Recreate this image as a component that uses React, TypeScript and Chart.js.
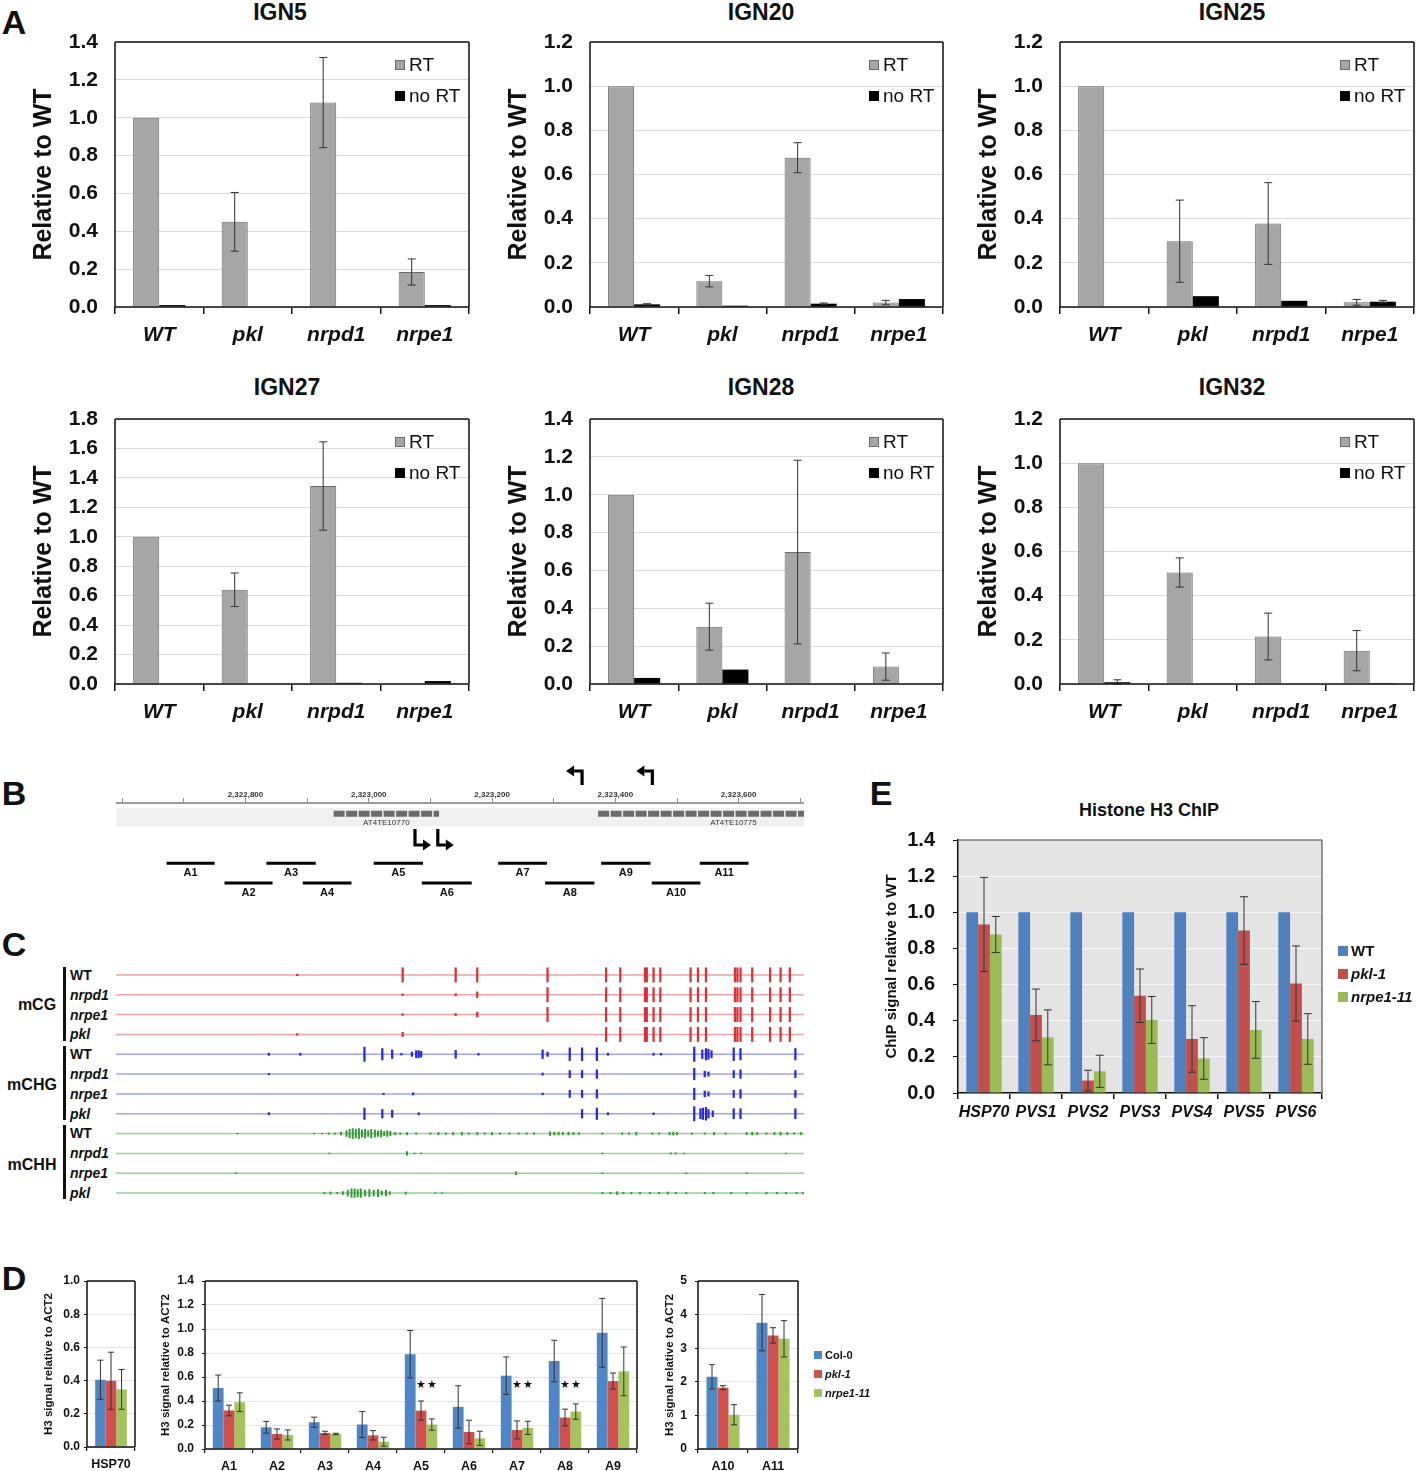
import React, { useEffect, useRef } from 'react';
import { Chart, registerables } from 'chart.js';

Chart.register(...registerables);
const FONT = 'Arial, "Liberation Sans", Helvetica, sans-serif';
Chart.defaults.font.family = FONT;
Chart.defaults.color = '#111';

// ================= PANEL A DATA =================
const genotypes = ['WT', 'pkl', 'nrpd1', 'nrpe1'];
const ign5RT = [1.0, 0.45, 1.08, 0.185];
const ign5RTErr = [0, 0.155, 0.238, 0.069];
const ign5NoRT = [0.01, 0, 0, 0.01];
const ign5NoRTErr = [0, 0, 0, 0];
const ign20RT = [1.0, 0.117, 0.676, 0.02];
const ign20RTErr = [0, 0.026, 0.068, 0.01];
const ign20NoRT = [0.012, 0.006, 0.015, 0.036];
const ign20NoRTErr = [0.003, 0, 0.003, 0];
const ign25RT = [1.0, 0.298, 0.378, 0.021];
const ign25RTErr = [0, 0.186, 0.185, 0.013];
const ign25NoRT = [0, 0.049, 0.028, 0.024];
const ign25NoRTErr = [0, 0, 0, 0.006];
const ign27RT = [1.0, 0.64, 1.345, 0];
const ign27RTErr = [0, 0.114, 0.3, 0];
const ign27NoRT = [0, 0, 0.008, 0.02];
const ign27NoRTErr = [0, 0, 0, 0];
const ign28RT = [1.0, 0.303, 0.697, 0.092];
const ign28RTErr = [0, 0.124, 0.485, 0.072];
const ign28NoRT = [0.032, 0.076, 0, 0];
const ign28NoRTErr = [0, 0, 0, 0];
const ign32RT = [1.0, 0.505, 0.215, 0.151];
const ign32RTErr = [0, 0.066, 0.106, 0.091];
const ign32NoRT = [0.008, 0, 0, 0.004];
const ign32NoRTErr = [0.011, 0, 0, 0];

// ================= PANEL B DATA =================
const ampliconNames = ['A1', 'A2', 'A3', 'A4', 'A5', 'A6', 'A7', 'A8', 'A9', 'A10', 'A11'];
const ampliconStart = [2322672, 2322766, 2322834, 2322893, 2323008, 2323086, 2323210, 2323286, 2323377, 2323459, 2323537];
const ampliconEnd = [2322750, 2322844, 2322914, 2322972, 2323088, 2323167, 2323289, 2323366, 2323457, 2323538, 2323616];
const teNames = ['AT4TE10770', 'AT4TE10775'];
const teStart = [2322943, 2323372];
const teEnd = [2323114, 2323811];
const tssPos = [2323075, 2323112, 2323346, 2323460];
const tssStrand = [1, 1, -1, -1];

// ================= PANEL C DATA (position bp, relative height) =================
const methContexts = ['mCG', 'mCHG', 'mCHH'];
const methSamples = ['WT', 'nrpd1', 'nrpe1', 'pkl'];
const mcgCore = [[2323385, 1], [2323408, 1], [2323448, 1], [2323451, 1], [2323462, 1], [2323473, 1], [2323522, 1], [2323534, 1], [2323547, 1], [2323594, 1], [2323598, 1], [2323603, 1], [2323622, 1], [2323651, 1], [2323668, 1], [2323683, 1]];
const mcgWT = [[2322884, 0.12], [2323055, 1], [2323141, 1], [2323176, 1], [2323290, 1], ...mcgCore];
const mcgNrpd1 = [[2323055, 0.12], [2323141, 0.15], [2323176, 0.4], [2323290, 1], ...mcgCore];
const mcgNrpe1 = [[2323055, 0.12], [2323141, 0.15], [2323176, 0.35], [2323290, 1], ...mcgCore];
const mcgPkl = [[2322884, 0.12], [2323055, 0.3], ...mcgCore];
const mchgWT = [[2322838, 0.15], [2322889, 0.15], [2322993, 1], [2323022, 0.8], [2323038, 0.6], [2323053, 0.12], [2323070, 0.3], [2323077, 0.5], [2323081, 0.5], [2323085, 0.4], [2323141, 0.55], [2323178, 0.12], [2323282, 0.6], [2323290, 0.3], [2323326, 0.9], [2323346, 0.9], [2323370, 0.9], [2323388, 0.15], [2323462, 0.15], [2323474, 0.12], [2323528, 1], [2323541, 0.6], [2323547, 0.8], [2323551, 0.7], [2323556, 0.5], [2323592, 0.9], [2323603, 0.8], [2323692, 0.8]];
const mchgNrpd1 = [[2322838, 0.1], [2323282, 0.15], [2323326, 0.5], [2323346, 0.5], [2323370, 0.6], [2323528, 0.8], [2323545, 0.4], [2323551, 0.3], [2323592, 0.5], [2323603, 0.6], [2323692, 0.5]];
const mchgNrpe1 = [[2323024, 0.1], [2323072, 0.15], [2323282, 0.12], [2323326, 0.5], [2323346, 0.5], [2323370, 0.6], [2323528, 0.8], [2323545, 0.4], [2323551, 0.3], [2323592, 0.5], [2323603, 0.6], [2323692, 0.5]];
const mchgPkl = [[2322838, 0.15], [2322993, 0.8], [2323022, 0.6], [2323038, 0.5], [2323081, 0.15], [2323346, 0.6], [2323370, 0.8], [2323388, 0.15], [2323462, 0.12], [2323528, 1], [2323538, 0.7], [2323542, 0.8], [2323547, 0.9], [2323551, 0.6], [2323558, 0.4], [2323592, 0.7], [2323603, 0.7], [2323692, 0.7]];
const mchhWT = [[2322787, 0.05], [2322911, 0.05], [2322924, 0.05], [2322935, 0.1], [2322945, 0.1], [2322955, 0.2], [2322964, 0.4], [2322969, 0.6], [2322974, 0.7], [2322979, 0.6], [2322984, 0.7], [2322989, 0.5], [2322994, 0.6], [2322999, 0.4], [2323004, 0.6], [2323010, 0.5], [2323015, 0.4], [2323020, 0.5], [2323025, 0.3], [2323030, 0.4], [2323035, 0.3], [2323043, 0.15], [2323051, 0.1], [2323062, 0.15], [2323077, 0.1], [2323100, 0.1], [2323113, 0.15], [2323125, 0.1], [2323137, 0.15], [2323151, 0.2], [2323162, 0.1], [2323176, 0.15], [2323188, 0.1], [2323200, 0.15], [2323213, 0.1], [2323228, 0.1], [2323243, 0.1], [2323256, 0.1], [2323268, 0.1], [2323294, 0.25], [2323301, 0.2], [2323308, 0.2], [2323315, 0.15], [2323324, 0.2], [2323332, 0.15], [2323341, 0.1], [2323379, 0.1], [2323411, 0.1], [2323422, 0.1], [2323434, 0.2], [2323460, 0.1], [2323471, 0.1], [2323488, 0.15], [2323494, 0.2], [2323500, 0.15], [2323524, 0.1], [2323545, 0.1], [2323560, 0.15], [2323579, 0.1], [2323613, 0.15], [2323622, 0.2], [2323630, 0.15], [2323645, 0.1], [2323658, 0.15], [2323668, 0.2], [2323679, 0.15], [2323690, 0.1], [2323701, 0.15]];
const mchhNrpd1 = [[2322936, 0.05], [2323062, 0.25], [2323074, 0.05], [2323085, 0.05], [2323379, 0.05], [2323490, 0.08], [2323498, 0.08], [2323511, 0.05], [2323677, 0.05]];
const mchhNrpe1 = [[2322785, 0.05], [2323239, 0.2], [2323379, 0.05], [2323515, 0.05], [2323613, 0.05]];
const mchhPkl = [[2322928, 0.1], [2322938, 0.15], [2322949, 0.1], [2322958, 0.2], [2322966, 0.4], [2322972, 0.6], [2322977, 0.6], [2322982, 0.5], [2322987, 0.6], [2322994, 0.4], [2323001, 0.5], [2323008, 0.4], [2323015, 0.5], [2323021, 0.3], [2323028, 0.4], [2323034, 0.2], [2323060, 0.15], [2323108, 0.05], [2323119, 0.05], [2323379, 0.1], [2323392, 0.1], [2323403, 0.2], [2323413, 0.1], [2323426, 0.1], [2323440, 0.1], [2323456, 0.1], [2323471, 0.1], [2323485, 0.15], [2323498, 0.1], [2323515, 0.1], [2323545, 0.1], [2323559, 0.1], [2323588, 0.1], [2323613, 0.1], [2323645, 0.12], [2323662, 0.1], [2323677, 0.1], [2323694, 0.1], [2323704, 0.1]];

// ================= PANEL D DATA =================
const dHspCats = ['HSP70'];
const dHspCol0 = [0.405];
const dHspCol0Err = [0.118];
const dHspPkl = [0.399];
const dHspPklErr = [0.172];
const dHspNrpe = [0.347];
const dHspNrpeErr = [0.12];
const dMainCats = ['A1', 'A2', 'A3', 'A4', 'A5', 'A6', 'A7', 'A8', 'A9'];
const dMainCol0 = [0.508, 0.181, 0.223, 0.204, 0.79, 0.351, 0.611, 0.733, 0.968];
const dMainCol0Err = [0.108, 0.049, 0.042, 0.108, 0.197, 0.176, 0.156, 0.173, 0.287];
const dMainPkl = [0.321, 0.125, 0.134, 0.114, 0.32, 0.142, 0.159, 0.262, 0.566];
const dMainPklErr = [0.044, 0.042, 0.014, 0.039, 0.08, 0.098, 0.075, 0.07, 0.067];
const dMainNrpe = [0.39, 0.117, 0.125, 0.061, 0.204, 0.089, 0.176, 0.312, 0.647];
const dMainNrpeErr = [0.078, 0.042, 0.006, 0.037, 0.047, 0.059, 0.055, 0.064, 0.203];
const dEndCats = ['A10', 'A11'];
const dEndCol0 = [2.15, 3.76];
const dEndCol0Err = [0.36, 0.84];
const dEndPkl = [1.825, 3.38];
const dEndPklErr = [0.06, 0.23];
const dEndNrpe = [1.02, 3.28];
const dEndNrpeErr = [0.3, 0.54];
const starCats = ['A5', 'A7', 'A8'];
const starLevel = 0.53;

// ================= PANEL E DATA =================
const eCats = ['HSP70', 'PVS1', 'PVS2', 'PVS3', 'PVS4', 'PVS5', 'PVS6'];
const eWT = [1, 1, 1, 1, 1, 1, 1];
const ePkl = [0.933, 0.432, 0.069, 0.538, 0.299, 0.899, 0.606];
const ePklErr = [0.26, 0.143, 0.057, 0.148, 0.184, 0.187, 0.208];
const eNrpe = [0.877, 0.308, 0.12, 0.404, 0.191, 0.349, 0.299];
const eNrpeErr = [0.1, 0.152, 0.089, 0.13, 0.115, 0.157, 0.14];

// ================= helpers =================
const X_MIN = 2322590;
const X_MAX = 2323706;
const D_BLUE = '#4f86c6';
const D_RED = '#d0504d';
const D_GREEN = '#a3c35c';
const E_BLUE = '#4f81bd';
const E_RED = '#c0504d';
const E_GREEN = '#9bbb59';

function noPad(s: any) {
  s.paddingTop = 0;
  s.paddingBottom = 0;
  s.paddingLeft = 0;
  s.paddingRight = 0;
}

function errorBarPlugin(color: string, width: number, cap: number) {
  return {
    id: 'errorBars',
    afterDatasetsDraw(chart: any) {
      const ctx = chart.ctx;
      chart.data.datasets.forEach((ds: any, i: number) => {
        const errs = ds.errors;
        if (!errs) return;
        const meta = chart.getDatasetMeta(i);
        const ys = chart.scales[meta.yAxisID];
        meta.data.forEach((el: any, j: number) => {
          const v = ds.data[j];
          const e = errs[j];
          if (!e) return;
          const x = el.x;
          const t = ys.getPixelForValue(v + e);
          const b = ys.getPixelForValue(Math.max(0, v - e));
          ctx.save();
          ctx.strokeStyle = color;
          ctx.lineWidth = width;
          ctx.beginPath();
          ctx.moveTo(x, t); ctx.lineTo(x, b);
          ctx.moveTo(x - cap, t); ctx.lineTo(x + cap, t);
          ctx.moveTo(x - cap, b); ctx.lineTo(x + cap, b);
          ctx.stroke();
          ctx.restore();
        });
      });
    },
  };
}

function boxPlugin(color: string, width: number, sides: string[]) {
  return {
    id: 'box',
    afterDatasetsDraw(chart: any) {
      const { ctx, chartArea: a } = chart;
      ctx.save();
      ctx.strokeStyle = color;
      ctx.lineWidth = width;
      ctx.beginPath();
      if (sides.includes('top')) { ctx.moveTo(a.left, a.top); ctx.lineTo(a.right, a.top); }
      if (sides.includes('right')) { ctx.moveTo(a.right, a.top); ctx.lineTo(a.right, a.bottom); }
      if (sides.includes('bottom')) { ctx.moveTo(a.left, a.bottom); ctx.lineTo(a.right, a.bottom); }
      if (sides.includes('left')) { ctx.moveTo(a.left, a.top); ctx.lineTo(a.left, a.bottom); }
      ctx.stroke();
      ctx.restore();
    },
  };
}

function legendPlugin(o: any) {
  return {
    id: 'customLegend',
    afterDraw(chart: any) {
      const { ctx, chartArea: a } = chart;
      chart.data.datasets.forEach((ds: any, k: number) => {
        const x0 = o.fromRight ? a.right - o.dx : a.right + o.dx;
        const cy = a.top + o.dy + k * o.step;
        ctx.save();
        ctx.fillStyle = ds.backgroundColor;
        ctx.fillRect(x0, cy - o.sq / 2, o.sq, o.sq);
        if (o.stroke) {
          ctx.strokeStyle = ds.borderColor || '#000';
          ctx.lineWidth = 1;
          ctx.strokeRect(x0 + 0.5, cy - o.sq / 2 + 0.5, o.sq - 1, o.sq - 1);
        }
        const italic = o.italic && k > 0 ? 'italic ' : '';
        ctx.font = `${italic}${o.bold ? 'bold ' : ''}${o.size}px ${FONT}`;
        ctx.fillStyle = '#111';
        ctx.textAlign = 'left';
        ctx.textBaseline = 'middle';
        ctx.fillText(ds.label, x0 + o.sq + o.gap, cy + 1);
        ctx.restore();
      });
    },
  };
}

function ignConfig(yMax: number, rt: number[], rtErr: number[], noRt: number[], noRtErr: number[]) {
  return {
    type: 'bar',
    data: {
      labels: genotypes,
      datasets: [
        { label: 'RT', data: rt, errors: rtErr, backgroundColor: '#a6a6a6', borderColor: '#6a6a6a', borderWidth: 1, categoryPercentage: 0.59, barPercentage: 1 },
        { label: 'no RT', data: noRt, errors: noRtErr, backgroundColor: '#000', borderColor: '#000', borderWidth: 0, categoryPercentage: 0.59, barPercentage: 1 },
      ],
    },
    options: {
      animation: false, responsive: false, maintainAspectRatio: false,
      layout: { padding: { top: 12, right: 2, left: 0, bottom: 0 } },
      plugins: { legend: { display: false }, tooltip: { enabled: false }, title: { display: false } },
      scales: {
        x: {
          grid: { display: true, drawOnChartArea: false, drawTicks: true, tickLength: 7, color: '#111', lineWidth: 1.5, offset: true },
          border: { display: false },
          ticks: { font: { size: 21, weight: 'bold', style: 'italic' }, color: '#111', padding: 9, maxRotation: 0, autoSkip: false },
          afterFit: (s: any) => { s.height = 53; noPad(s); },
        },
        y: {
          min: 0, max: yMax,
          ticks: { stepSize: 0.2, autoSkip: false, maxTicksLimit: 30, callback: (v: any) => Number(v).toFixed(1), font: { size: 21, weight: 'bold', lineHeight: 1 }, color: '#111', padding: 17 },
          grid: { color: '#dadada', drawTicks: false, lineWidth: 1 },
          border: { display: false },
          title: { display: true, text: 'Relative to WT', font: { size: 25, weight: 'bold' }, color: '#111', padding: { top: 29, bottom: 0 } },
          afterFit: (s: any) => { s.width = 115; noPad(s); },
        },
      },
    },
    plugins: [
      errorBarPlugin('#333', 1, 4),
      boxPlugin('#111', 1.5, ['top', 'right', 'bottom', 'left']),
      legendPlugin({ fromRight: true, dx: 74, dy: 23, step: 31, sq: 10, gap: 4, size: 19, bold: false, italic: false, stroke: true }),
    ],
  };
}

function dConfig(o: any) {
  return {
    type: 'bar',
    data: {
      labels: o.cats,
      datasets: [
        { label: 'Col-0', data: o.col0, errors: o.col0Err, backgroundColor: D_BLUE, categoryPercentage: o.cat, barPercentage: 1 },
        { label: 'pkl-1', data: o.pkl, errors: o.pklErr, backgroundColor: D_RED, categoryPercentage: o.cat, barPercentage: 1 },
        { label: 'nrpe1-11', data: o.nrpe, errors: o.nrpeErr, backgroundColor: D_GREEN, categoryPercentage: o.cat, barPercentage: 1 },
      ],
    },
    options: {
      animation: false, responsive: false, maintainAspectRatio: false,
      layout: { padding: { top: 11, right: o.padRight, left: 0, bottom: 0 } },
      plugins: { legend: { display: false }, tooltip: { enabled: false } },
      scales: {
        x: {
          grid: { display: true, drawOnChartArea: false, drawTicks: true, tickLength: 4, color: '#111', lineWidth: 1.2, offset: true },
          border: { display: false },
          ticks: { font: { size: 12.5, weight: 'bold' }, color: '#111', padding: 6, maxRotation: 0, autoSkip: false },
          afterFit: (s: any) => { s.height = o.xH; noPad(s); },
        },
        y: {
          min: 0, max: o.yMax,
          ticks: { stepSize: o.step, autoSkip: false, maxTicksLimit: 30, callback: (v: any) => (o.step < 1 ? Number(v).toFixed(1) : String(v)), font: { size: 12, weight: 'bold', lineHeight: 1 }, color: '#111', padding: o.tickPad },
          grid: { color: '#e4e4e4', tickColor: '#111', drawTicks: true, tickLength: 3 },
          border: { display: false },
          title: { display: true, text: 'H3 signal relative to ACT2', font: { size: 11.5, weight: 'bold' }, color: '#111', padding: { top: o.titlePad, bottom: 0 } },
          afterFit: (s: any) => { s.width = o.yW; noPad(s); },
        },
      },
    },
    plugins: [errorBarPlugin('#333', 1, 3), boxPlugin('#111', 1.5, ['top', 'right', 'bottom', 'left']), ...(o.extra || [])],
  };
}

const starPlugin = {
  id: 'stars',
  afterDatasetsDraw(chart: any) {
    const { ctx } = chart;
    const ys = chart.scales.y;
    const labels = chart.data.labels;
    ctx.save();
    ctx.fillStyle = '#111';
    ctx.font = `11px ${FONT}`;
    ctx.textAlign = 'center';
    ctx.textBaseline = 'middle';
    starCats.forEach((cat) => {
      const idx = labels.indexOf(cat);
      [1, 2].forEach((di) => {
        const el = chart.getDatasetMeta(di).data[idx];
        ctx.fillText('\u2605', el.x, ys.getPixelForValue(starLevel));
      });
    });
    ctx.restore();
  },
};

function eConfig() {
  return {
    type: 'bar',
    data: {
      labels: eCats,
      datasets: [
        { label: 'WT', data: eWT, backgroundColor: E_BLUE, categoryPercentage: 0.68, barPercentage: 1 },
        { label: 'pkl-1', data: ePkl, errors: ePklErr, backgroundColor: E_RED, categoryPercentage: 0.68, barPercentage: 1 },
        { label: 'nrpe1-11', data: eNrpe, errors: eNrpeErr, backgroundColor: E_GREEN, categoryPercentage: 0.68, barPercentage: 1 },
      ],
    },
    options: {
      animation: false, responsive: false, maintainAspectRatio: false,
      layout: { padding: { top: 10, right: 95, left: 0, bottom: 0 } },
      plugins: { legend: { display: false }, tooltip: { enabled: false } },
      scales: {
        x: {
          grid: { display: true, drawOnChartArea: false, drawTicks: true, tickLength: 6, color: '#111', lineWidth: 1.5, offset: true },
          border: { display: true, color: '#111', width: 1.5 },
          ticks: { font: { size: 16, weight: 'bold', style: 'italic' }, color: '#111', padding: 4, maxRotation: 0, minRotation: 0, autoSkip: false },
          afterFit: (s: any) => { s.height = 30; noPad(s); },
        },
        y: {
          min: 0, max: 1.4,
          ticks: { stepSize: 0.2, autoSkip: false, maxTicksLimit: 30, callback: (v: any) => Number(v).toFixed(1), font: { size: 20, weight: 'bold', lineHeight: 1 }, color: '#111', padding: 18 },
          grid: { color: '#f6f6f6', tickColor: '#111', drawTicks: true, tickLength: 5, lineWidth: 1 },
          border: { display: true, color: '#111', width: 1.5 },
          title: { display: true, text: 'ChIP signal relative to WT', font: { size: 15, weight: 'bold' }, color: '#111', padding: { top: 13, bottom: 0 } },
          afterFit: (s: any) => { s.width = 88; noPad(s); },
        },
      },
    },
    plugins: [
      {
        id: 'plotBg',
        beforeDraw(chart: any) {
          const { ctx, chartArea: a } = chart;
          ctx.save();
          ctx.fillStyle = '#e4e4e4';
          ctx.fillRect(a.left, a.top, a.right - a.left, a.bottom - a.top);
          ctx.restore();
        },
      },
      errorBarPlugin('#333', 1, 4),
      boxPlugin('#777', 1.5, ['top', 'right']),
      legendPlugin({ fromRight: false, dx: 16, dy: 111, step: 23, sq: 10, gap: 3, size: 15, bold: true, italic: true, stroke: false }),
    ],
  };
}

function bConfig() {
  const TE_Y = 1.1;
  const ROW_Y = [6.2, 8.25];
  const datasets: any[] = [];
  teNames.forEach((n, i) => {
    datasets.push({ label: n, data: [{ x: teStart[i], y: TE_Y }, { x: teEnd[i], y: TE_Y }], showLine: true, borderColor: '#6b6b6b', borderWidth: 6, borderDash: [11, 1.5], borderCapStyle: 'butt', pointRadius: 0 });
  });
  ampliconNames.forEach((n, i) => {
    datasets.push({ label: n, data: [{ x: ampliconStart[i], y: ROW_Y[i % 2] }, { x: ampliconEnd[i], y: ROW_Y[i % 2] }], showLine: true, borderColor: '#000', borderWidth: 3, borderCapStyle: 'butt', pointRadius: 0 });
  });
  return {
    type: 'scatter',
    data: { datasets },
    options: {
      animation: false, responsive: false, maintainAspectRatio: false,
      layout: { padding: { top: 23, left: 0, right: 0, bottom: 0 } },
      plugins: { legend: { display: false }, tooltip: { enabled: false } },
      scales: {
        x: {
          type: 'linear', position: 'top', min: X_MIN, max: X_MAX, offset: false,
          grid: { display: true, drawOnChartArea: false, drawTicks: true, tickLength: 5, color: '#8a8a8a', lineWidth: 1 },
          border: { display: true, color: '#9a9a9a', width: 2 },
          ticks: {
            stepSize: 100, includeBounds: false, autoSkip: false, maxRotation: 0, maxTicksLimit: 20, padding: -2,
            font: { size: 8, weight: 'bold' }, color: '#333',
            callback: (v: any) => (v % 200 === 0 && v >= 2322800 && v <= 2323600 ? Number(v).toLocaleString('en-US') : ''),
          },
          afterFit: (s: any) => { s.height = 20; noPad(s); },
        },
        y: { display: false, min: 0, max: 10, reverse: true },
      },
    },
    plugins: [
      {
        id: 'bDecor',
        beforeDatasetsDraw(chart: any) {
          const { ctx, chartArea: a, scales } = chart;
          const t = scales.y.getPixelForValue(0.5);
          const b = scales.y.getPixelForValue(2.4);
          ctx.save();
          ctx.fillStyle = '#f0f0f0';
          ctx.fillRect(a.left, t, a.right - a.left, b - t);
          ctx.restore();
        },
        afterDatasetsDraw(chart: any) {
          const { ctx, chartArea: a, scales } = chart;
          const xs = scales.x;
          const ys = scales.y;
          ctx.save();
          ctx.textAlign = 'center';
          ctx.textBaseline = 'middle';
          ctx.font = `8px ${FONT}`;
          ctx.fillStyle = '#333';
          teNames.forEach((n, i) => {
            const cx = xs.getPixelForValue((teStart[i] + teEnd[i]) / 2);
            ctx.fillText(n, cx, ys.getPixelForValue(TE_Y) + 9);
          });
          ctx.font = `bold 11px ${FONT}`;
          ctx.fillStyle = '#111';
          ampliconNames.forEach((n, i) => {
            const cx = xs.getPixelForValue((ampliconStart[i] + ampliconEnd[i]) / 2);
            ctx.fillText(n, cx, ys.getPixelForValue(ROW_Y[i % 2]) + 10);
          });
          ctx.strokeStyle = '#000';
          ctx.fillStyle = '#000';
          ctx.lineWidth = 3.2;
          ctx.lineJoin = 'miter';
          tssPos.forEach((p, i) => {
            const x = xs.getPixelForValue(p);
            const s = tssStrand[i];
            const y0 = s > 0 ? a.top + 26 : a.top - 18;
            const y1 = s > 0 ? a.top + 42 : a.top - 32;
            const hx = x + s * 8;
            ctx.beginPath();
            ctx.moveTo(x, y0);
            ctx.lineTo(x, y1);
            ctx.lineTo(hx, y1);
            ctx.stroke();
            ctx.beginPath();
            ctx.moveTo(x + s * 16, y1);
            ctx.lineTo(hx, y1 - 5.5);
            ctx.lineTo(hx, y1 + 5.5);
            ctx.closePath();
            ctx.fill();
          });
          ctx.restore();
        },
      },
    ],
  };
}

function cConfig() {
  const tracks = [mcgWT, mcgNrpd1, mcgNrpe1, mcgPkl, mchgWT, mchgNrpd1, mchgNrpe1, mchgPkl, mchhWT, mchhNrpd1, mchhNrpe1, mchhPkl];
  const markColors = ['#d8323a', '#2a2ad4', '#2f9a2f'];
  const lineColors = ['#eba5a5', '#a3a3f0', '#95d095'];
  const thick = [1.6, 1.6, 1.3];
  const K = 0.36;
  const datasets: any[] = [];
  tracks.forEach((marks: any, i) => {
    const c = Math.floor(i / 4);
    const base = i + 0.5;
    datasets.push({ type: 'line', data: [{ x: X_MIN, y: base }, { x: X_MAX, y: base }], borderColor: lineColors[c], borderWidth: 1.5, pointRadius: 0, order: 2 });
    datasets.push({ type: 'bar', data: marks.map((m: number[]) => ({ x: m[0], y: [base - m[1] * K, base + m[1] * K] })), backgroundColor: markColors[c], barThickness: thick[c], grouped: false, order: 1 });
  });
  return {
    type: 'bar',
    data: { datasets },
    options: {
      animation: false, responsive: false, maintainAspectRatio: false,
      layout: { padding: 0 },
      plugins: { legend: { display: false }, tooltip: { enabled: false } },
      scales: {
        x: { type: 'linear', display: false, min: X_MIN, max: X_MAX, offset: false },
        y: { type: 'linear', display: false, min: 0, max: 12, reverse: true },
      },
    },
  };
}

function ChartCanvas({ left, top, width, height, make }: any) {
  const ref = useRef<HTMLCanvasElement>(null);
  useEffect(() => {
    const chart = new Chart(ref.current as any, make());
    return () => chart.destroy();
  }, []);
  return <canvas ref={ref} width={width} height={height} style={{ position: 'absolute', left, top, width, height }} />;
}

function T({ x, y, children, size = 14, bold = true, italic = false, align = 'center' }: any) {
  const tx = align === 'center' ? '-50%' : align === 'right' ? '-100%' : '0';
  return (
    <div style={{ position: 'absolute', left: x, top: y, transform: `translate(${tx}, -50%)`, fontFamily: FONT, fontSize: size, fontWeight: bold ? 'bold' : 'normal', fontStyle: italic ? 'italic' : 'normal', whiteSpace: 'nowrap', lineHeight: 1, color: '#111' }}>
      {children}
    </div>
  );
}

const aPanels = [
  { title: 'IGN5', tx: 280, yMax: 1.4, rt: ign5RT, rtErr: ign5RTErr, no: ign5NoRT, noErr: ign5NoRTErr },
  { title: 'IGN20', tx: 761, yMax: 1.2, rt: ign20RT, rtErr: ign20RTErr, no: ign20NoRT, noErr: ign20NoRTErr },
  { title: 'IGN25', tx: 1232, yMax: 1.2, rt: ign25RT, rtErr: ign25RTErr, no: ign25NoRT, noErr: ign25NoRTErr },
  { title: 'IGN27', tx: 287, yMax: 1.8, rt: ign27RT, rtErr: ign27RTErr, no: ign27NoRT, noErr: ign27NoRTErr },
  { title: 'IGN28', tx: 761, yMax: 1.4, rt: ign28RT, rtErr: ign28RTErr, no: ign28NoRT, noErr: ign28NoRTErr },
  { title: 'IGN32', tx: 1232, yMax: 1.2, rt: ign32RT, rtErr: ign32RTErr, no: ign32NoRT, noErr: ign32NoRTErr },
];
const plotLeft = [115, 590, 1060];
const plotRight = [469, 943, 1414];
const plotTop = [42, 419];
const plotBottom = [307, 684];
const titleY = [12, 387];

export default function App() {
  return (
    <div style={{ position: 'absolute', left: 0, top: 0, width: 1417, height: 1471, background: '#fff', overflow: 'hidden' }}>
      <T x={14} y={22} size={34}>A</T>
      <T x={14} y={793} size={34}>B</T>
      <T x={14} y={944} size={34}>C</T>
      <T x={14} y={1278} size={34}>D</T>
      <T x={881} y={793} size={34}>E</T>

      {aPanels.map((p, k) => {
        const col = k % 3;
        const row = Math.floor(k / 3);
        const left = plotLeft[col] - 115;
        const top = plotTop[row] - 12;
        const width = plotRight[col] + 2 - left;
        const height = plotBottom[row] + 53 - top;
        return (
          <React.Fragment key={p.title}>
            <T x={p.tx} y={titleY[row]} size={23}>{p.title}</T>
            <ChartCanvas left={left} top={top} width={width} height={height} make={() => ignConfig(p.yMax, p.rt, p.rtErr, p.no, p.noErr)} />
          </React.Fragment>
        );
      })}

      <ChartCanvas left={116} top={760} width={688} height={140} make={bConfig} />

      <T x={37} y={1005} size={16}>{methContexts[0]}</T>
      <T x={32} y={1085} size={16}>{methContexts[1]}</T>
      <T x={32} y={1165} size={16}>{methContexts[2]}</T>
      {[0, 1, 2].map((g) => (
        <div key={g} style={{ position: 'absolute', left: 63, top: 967 + g * 79.2, width: 2.5, height: 74, background: '#111' }} />
      ))}
      {[0, 1, 2].map((g) => methSamples.map((s, r) => (
        <T key={`${g}-${s}`} x={70} y={975 + (g * 4 + r) * 19.8} size={14} align="left" italic={s !== 'WT'}>{s}</T>
      )))}
      <ChartCanvas left={116} top={965} width={688} height={238} make={cConfig} />

      <ChartCanvas left={30} top={1270} width={106} height={205} make={() => dConfig({ cats: dHspCats, col0: dHspCol0, col0Err: dHspCol0Err, pkl: dHspPkl, pklErr: dHspPklErr, nrpe: dHspNrpe, nrpeErr: dHspNrpeErr, cat: 0.66, yMax: 1.0, step: 0.2, yW: 57, tickPad: 4, titlePad: 12, padRight: 1, xH: 28 })} />
      <ChartCanvas left={145} top={1270} width={493} height={207} make={() => dConfig({ cats: dMainCats, col0: dMainCol0, col0Err: dMainCol0Err, pkl: dMainPkl, pklErr: dMainPklErr, nrpe: dMainNrpe, nrpeErr: dMainNrpeErr, cat: 0.675, yMax: 1.4, step: 0.2, yW: 60, tickPad: 8, titlePad: 14, padRight: 1, xH: 28, extra: [starPlugin] })} />
      <ChartCanvas left={650} top={1270} width={230} height={207} make={() => dConfig({ cats: dEndCats, col0: dEndCol0, col0Err: dEndCol0Err, pkl: dEndPkl, pklErr: dEndPklErr, nrpe: dEndNrpe, nrpeErr: dEndNrpeErr, cat: 0.66, yMax: 5, step: 1, yW: 48, tickPad: 8, titlePad: 13, padRight: 82, xH: 28, extra: [legendPlugin({ fromRight: false, dx: 16, dy: 74, step: 19, sq: 8, gap: 3, size: 11, bold: true, italic: true, stroke: false })] })} />

      <T x={1149} y={810} size={18}>Histone H3 ChIP</T>
      <ChartCanvas left={870} top={830} width={547} height={293} make={eConfig} />
    </div>
  );
}
